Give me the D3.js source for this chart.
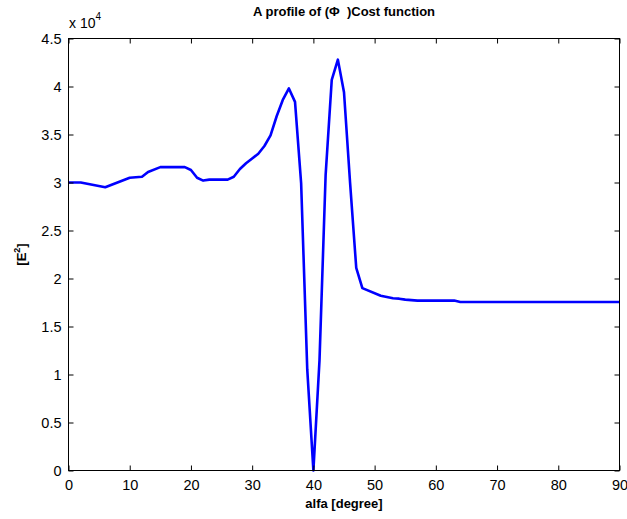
<!DOCTYPE html>
<html>
<head>
<meta charset="utf-8">
<script src="https://cdn.jsdelivr.net/npm/d3@7"></script>
<style>
  html, body { margin: 0; padding: 0; background: #fff; }
  svg { display: block; font-family: "Liberation Sans", Arial, sans-serif; }
</style>
</head>
<body>
<svg id="chart" width="627" height="519"></svg>
<script>
// Data (alfa in degrees, cost in units)
const alfa = [0, 2, 6, 10, 12, 13, 15, 19, 20, 21, 22, 23, 26, 27, 28, 29, 30, 31, 32, 33, 34, 35, 36, 37, 38, 39, 40, 41, 42, 43, 44, 45, 46, 47, 48, 51, 53, 54, 55, 57, 63, 64, 90];
const cost = [30000, 30000, 29500, 30500, 30600, 31100, 31600, 31600, 31300, 30500, 30200, 30300, 30300, 30600, 31400, 32000, 32500, 33000, 33800, 34900, 36900, 38600, 39800, 38400, 29900, 10500, 0, 11500, 30800, 40700, 42800, 39400, 29900, 21100, 19000, 18200, 17950, 17900, 17800, 17700, 17700, 17550, 17550];
const xTicks = [0, 10, 20, 30, 40, 50, 60, 70, 80, 90];
const yTicks = [0, 0.5, 1, 1.5, 2, 2.5, 3, 3.5, 4, 4.5];
const yTickLabels = ["0", "0.5", "1", "1.5", "2", "2.5", "3", "3.5", "4", "4.5"];
const titleText = "A profile of (\u03A6  )Cost function";
const xLabel = "alfa [degree]";

const svg = d3.select("#chart");
const L = 68.5, R = 619.5, T = 38.5, B = 470.5;
const x = d3.scaleLinear().domain([0, 90]).range([L, R]);
const y = d3.scaleLinear().domain([0, 45000]).range([B, T]);

// Curve
const line = d3.line().x((d, i) => x(alfa[i])).y(d => y(d));
svg.append("path")
  .datum(cost)
  .attr("d", line)
  .attr("fill", "none")
  .attr("stroke", "#0000ff")
  .attr("stroke-width", 2.6)
  .attr("stroke-linejoin", "round");

// Frame
svg.append("rect")
  .attr("x", L).attr("y", T).attr("width", R - L).attr("height", B - T)
  .attr("fill", "none").attr("stroke", "#000").attr("stroke-width", 1);

const tl = 5;
const xAxis = d3.axisBottom(x).tickValues(xTicks).tickSize(-tl).tickPadding(9).tickFormat(d3.format("d"));
const gx = svg.append("g").attr("transform", `translate(0,${B})`).call(xAxis);
const gxt = svg.append("g").attr("transform", `translate(0,${T})`).call(d3.axisTop(x).tickValues(xTicks).tickSize(-tl).tickFormat(""));
const yAxis = d3.axisLeft(y).tickValues(yTicks.map(v => v * 10000)).tickSize(-tl).tickPadding(7)
  .tickFormat((d, i) => yTickLabels[i]);
const gy = svg.append("g").attr("transform", `translate(${L},0)`).call(yAxis);
const gyr = svg.append("g").attr("transform", `translate(${R},0)`).call(d3.axisRight(y).tickValues(yTicks.map(v => v * 10000)).tickSize(-tl).tickFormat(""));

[gx, gxt, gy, gyr].forEach(g => {
  g.select(".domain").remove();
  g.selectAll(".tick line").attr("stroke", "#000").attr("stroke-width", 1);
  g.selectAll("text").attr("fill", "#000").style("font-size", "14.5px").style("font-family", "'Liberation Sans', Arial, sans-serif");
});

// Exponent label
const ex = svg.append("text").attr("x", 69).attr("y", 28).style("font-size", "14px").attr("fill", "#000");
ex.append("tspan").text("x 10");
ex.append("tspan").attr("dy", -8).style("font-size", "10px").text("4");

// Title
svg.append("text").attr("x", (L + R) / 2).attr("y", 16).attr("text-anchor", "middle")
  .style("font-size", "13px").style("font-weight", "bold").style("white-space", "pre")
  .attr("xml:space", "preserve").attr("fill", "#000").text(titleText);

// X label
svg.append("text").attr("x", (L + R) / 2).attr("y", 508).attr("text-anchor", "middle")
  .style("font-size", "13px").style("font-weight", "bold").attr("fill", "#000").text(xLabel);

// Y label
const yl = svg.append("text").attr("transform", `translate(26,${(T + B) / 2}) rotate(-90)`).attr("text-anchor", "middle")
  .style("font-size", "13px").style("font-weight", "bold").attr("fill", "#000");
yl.append("tspan").text("[E");
yl.append("tspan").attr("dy", -6).style("font-size", "9px").text("2");
yl.append("tspan").attr("dy", 6).text("]");
</script>
</body>
</html>
